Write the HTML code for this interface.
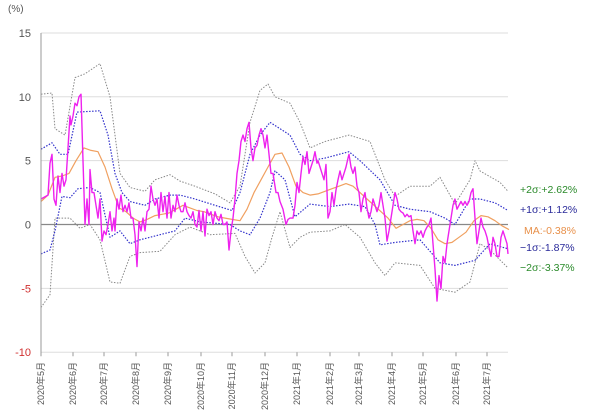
<!DOCTYPE html>
<html><head><meta charset="utf-8"><style>
html,body{margin:0;padding:0;background:#fff;}
svg{display:block;font-family:"Liberation Sans","Noto Sans CJK JP",sans-serif;}
</style></head><body>
<svg id="chart" width="600" height="419" viewBox="0 0 600 419" xmlns="http://www.w3.org/2000/svg">
<g id="grid"></g>
<g id="series"></g>
<g id="axes"></g>
<text x="8" y="12" font-size="10" fill="#555">(%)</text>
<g font-size="10.5">
<text x="520" y="193" fill="#2a8a2a">+2σ:+2.62%</text>
<text x="520" y="213" fill="#2a2a9a">+1σ:+1.12%</text>
<text x="524" y="234" fill="#e8904a">MA:-0.38%</text>
<text x="520" y="251" fill="#2a2a9a">−1σ:-1.87%</text>
<text x="520" y="271" fill="#2a8a2a">−2σ:-3.37%</text>
</g>
</svg>
<script>
const yTicks=[15,10,5,0,-5,-10];
const monthLabels=["2020年5月","2020年6月","2020年7月","2020年8月","2020年9月","2020年10月","2020年11月","2020年12月","2021年1月","2021年2月","2021年3月","2021年4月","2021年5月","2021年6月","2021年7月"];
const monthDays=[0,32,63,95,127,160,191,224,256,289,318,351,382,415,446];
const maDays=[0,7,14,21,28,35,43,50,57,64,71,78,85,92,99,106,114,121,128,135,142,149,156,163,170,177,184,191,199,206,213,220,227,234,241,248,255,262,269,277,284,291,298,305,312,319,326,333,340,347,355,362,369,376,383,390,397,404,411,418,425,433,440,447,454,461,468];
const maVals=[1.8,2.3,3.7,3.8,4.0,5.0,6.0,5.8,5.7,4.5,2.8,1.3,1.0,0.5,0.2,0.4,0.7,0.8,0.9,1.2,1.5,1.3,1.1,1.0,0.8,0.6,0.5,0.4,0.3,1.2,2.5,3.5,4.5,5.5,5.6,4.5,3.0,2.5,2.3,2.4,2.6,2.8,3.0,3.2,3.0,2.5,2.0,1.5,1.0,0.5,-0.3,0.0,0.3,0.4,0.3,-0.3,-1.2,-1.5,-1.4,-1.0,-0.6,0.3,0.7,0.6,0.3,-0.1,-0.4];
const up1Days=[0,11,19,27,36,59,67,74,81,89,104,114,129,139,154,174,191,199,209,219,229,239,249,259,269,284,308,319,339,354,369,389,404,414,429,439,454,467];
const up1Vals=[5.9,6.4,5.5,5.5,8.8,8.9,7,4,2.5,1.8,1.5,2.0,2.3,2.3,2.0,1.5,1.1,2.5,5.5,7,8,7.5,7,5.5,5,5.2,5.7,5,3.5,1.5,1.2,1.0,0.5,0,2,2,1.7,1.1];
const up2Days=[0,11,14,24,34,44,59,69,79,89,104,114,129,139,154,174,189,199,209,219,227,234,249,259,269,284,308,329,344,354,369,389,399,414,429,434,439,459,467];
const up2Vals=[10.2,10.3,7.5,7,11.5,11.8,12.6,10,4,2.9,2.6,3.5,3.9,3.4,3,2.4,1.7,3,8,10.5,11,10,9.5,8,6,6.5,7,6.5,3.5,2.2,3,3,3.7,1.6,3.5,5,4.2,3.3,2.6];
const dn1Days=[0,9,14,21,29,37,49,59,69,79,89,99,119,134,144,159,189,199,209,219,229,234,244,254,269,289,308,324,334,339,354,379,399,414,434,449,467];
const dn1Vals=[-2.3,-2,-0.5,2.2,2.1,2.8,2.9,2.5,-1,-0.5,-1.5,-1.2,-0.8,-0.5,0.5,0.2,0,-0.5,-0.8,0.5,2.5,4.2,3.5,0.6,1.6,1.4,1.6,1.4,0,-1.6,-1.4,-1.2,-3,-3.2,-2.8,-1.5,-1.9];
const dn2Days=[0,9,14,29,39,49,59,69,79,89,99,119,134,149,169,194,204,214,224,231,239,249,259,269,289,304,319,334,344,354,379,394,414,429,439,449,467];
const dn2Vals=[-6.5,-5.5,0.5,0.5,-0.3,0,-1.2,-4.5,-4.6,-2.5,-2.2,-2.1,-0.8,-0.2,-0.8,-0.7,-2.5,-3.8,-3,-1,1,-1.8,-1,-0.6,-0.5,0,-1,-3,-4,-3,-3.2,-5,-5.3,-4.5,-1.5,-2,-3.4];
const pinkDays=[0,7,9,11,13,15,17,19,21,23,25,27,29,30,32,34,36,38,40,42,44,46,48,49,51,53,55,57,59,61,63,65,67,69,71,73,74,76,78,80,82,84,86,88,90,92,94,96,98,100,102,104,106,108,110,112,114,116,118,120,122,124,126,128,130,132,134,136,138,140,142,144,146,148,150,152,154,156,158,160,162,164,166,168,170,172,174,176,178,180,182,184,186,188,190,192,194,196,198,200,202,204,206,208,210,212,214,216,218,220,222,224,226,228,230,232,233,235,237,239,242,245,247,249,252,254,256,258,260,262,264,266,268,270,272,274,276,277,279,281,283,285,287,289,291,293,295,297,299,301,303,305,307,308,310,312,314,316,318,320,322,324,326,328,330,332,334,336,338,340,342,344,346,348,350,352,354,356,358,360,362,364,366,368,370,372,374,376,378,380,382,384,386,388,390,392,394,396,398,400,402,404,406,408,410,412,414,416,418,420,422,424,426,428,430,432,434,436,438,440,442,444,446,448,450,452,454,456,458,460,462,464,466,467];
const pinkVals=[2,2.3,4.8,5.5,2,1.5,3.8,2.5,4,3,3.5,6,8.5,7.8,8.5,9.5,9.3,10,10.2,5,0,2,0,4.3,2.5,2.5,1.5,0.5,2,-1.3,-0.5,-0.8,0,1,-0.5,0.5,-0.5,2,1.2,2.3,1,1.5,1,1.7,0.5,0.5,-0.8,-3.3,0.2,-0.5,0.5,-0.5,1,1.2,3,2,1.5,2,0.5,2.5,1,2.2,0.5,2.5,0.5,1.5,1,2.3,1.5,1,1,1.7,1,0.7,0.5,1,0,-0.2,1.1,-0.5,1,-0.9,1.2,0.7,1,0,1,0.5,0.3,0.8,0,0,0.2,-2,-0.5,0.5,2,4,5,6.5,7,6.5,7.5,8,6,5,6,6.2,7,7.5,7,6,7,5.5,4,4,3.5,2.5,2.5,1.8,1.2,0,0.4,0.5,0.5,1.5,3.3,2.5,4,5.3,4.7,5.7,4,4.5,5,5.7,4.8,5,4.5,4,3.5,4.7,0.5,1,2.5,1.5,2.7,3.5,4.2,3.5,4,4.5,5.2,5.5,4.5,4,4.5,3,2.5,1,2,2.5,1.3,0.5,1,2,1.5,1,1.5,2.5,1.5,0.5,-1.3,-0.5,0.5,1.5,2.5,2,1.2,1,0.9,0.6,0.8,0.6,0.7,-0.5,-1.5,-0.5,-0.8,-0.5,-1,-0.5,-0.2,0,0.5,-1.5,-3.5,-6,-4,-5,-2.5,-3,-1.5,-0.5,0.5,1.5,2,1.2,1.5,1.8,1.5,1.8,1.5,1.8,2.5,2.8,0.5,-1.5,-0.5,0.5,-0.2,-0.5,-1,-1.8,-2.5,-1,-1.5,-2.5,-2.5,-1,-0.5,-1,-1.5,-2.3];

const NS="http://www.w3.org/2000/svg";
const X0=41,X1=508,D1=467,Y0=224.5,K=12.77;
function xs(d){return X0+d*(X1-X0)/D1;}
function ys(v){return Y0-v*K;}
function mk(tag,attrs,parent){const e=document.createElementNS(NS,tag);for(const k in attrs)e.setAttribute(k,attrs[k]);parent.appendChild(e);return e;}
const grid=document.getElementById('grid'),axes=document.getElementById('axes'),ser=document.getElementById('series');
yTicks.forEach(v=>{
  const l=mk('line',{x1:X0,x2:X1,y1:ys(v),y2:ys(v),stroke:v===0?'#888':'#ddd','stroke-width':v===0?1.2:1},grid);
  
  
  const t=mk('text',{x:31,y:ys(v)+4,'text-anchor':'end','font-size':11,fill:v<0?'#d03030':'#555'},axes);
  t.textContent=v;
  
  
});
const ax=mk('line',{x1:X0,x2:X0,y1:ys(15),y2:ys(-10)+1,stroke:'#999','stroke-width':1},axes);


monthDays.forEach((d,i)=>{
  const x=xs(d);
  const tk=mk('line',{x1:x,x2:x,y1:ys(-10),y2:ys(-10)+4,stroke:'#999'},axes);
  
  
  const t=mk('text',{x:0,y:0,'text-anchor':'end','font-size':9,fill:'#555',transform:`translate(${x+3},362) rotate(-90)`},axes);
  t.textContent=monthLabels[i];
  
  
});
function line(days,vals,color,w,dash,name){
  const p=mk('polyline',{points:days.map((d,i)=>xs(d).toFixed(1)+','+ys(vals[i]).toFixed(1)).join(' '),fill:'none',stroke:color,'stroke-width':w,'stroke-linejoin':'round'},ser);
  if(dash)p.setAttribute('stroke-dasharray',dash);
  
  
}
line(up2Days,up2Vals,'#888',1,'1.5,1.5','plus-2-sigma-line');
line(dn2Days,dn2Vals,'#888',1,'1.5,1.5','minus-2-sigma-line');
line(up1Days,up1Vals,'#3333cc',1.2,'1.5,1.5','plus-1-sigma-line');
line(dn1Days,dn1Vals,'#3333cc',1.2,'1.5,1.5','minus-1-sigma-line');
line(maDays,maVals,'#f0a060',1.2,null,'moving-average-line');
line(pinkDays,pinkVals,'#ee22ee',1.4,null,'deviation-line');
</script>
</body></html>
